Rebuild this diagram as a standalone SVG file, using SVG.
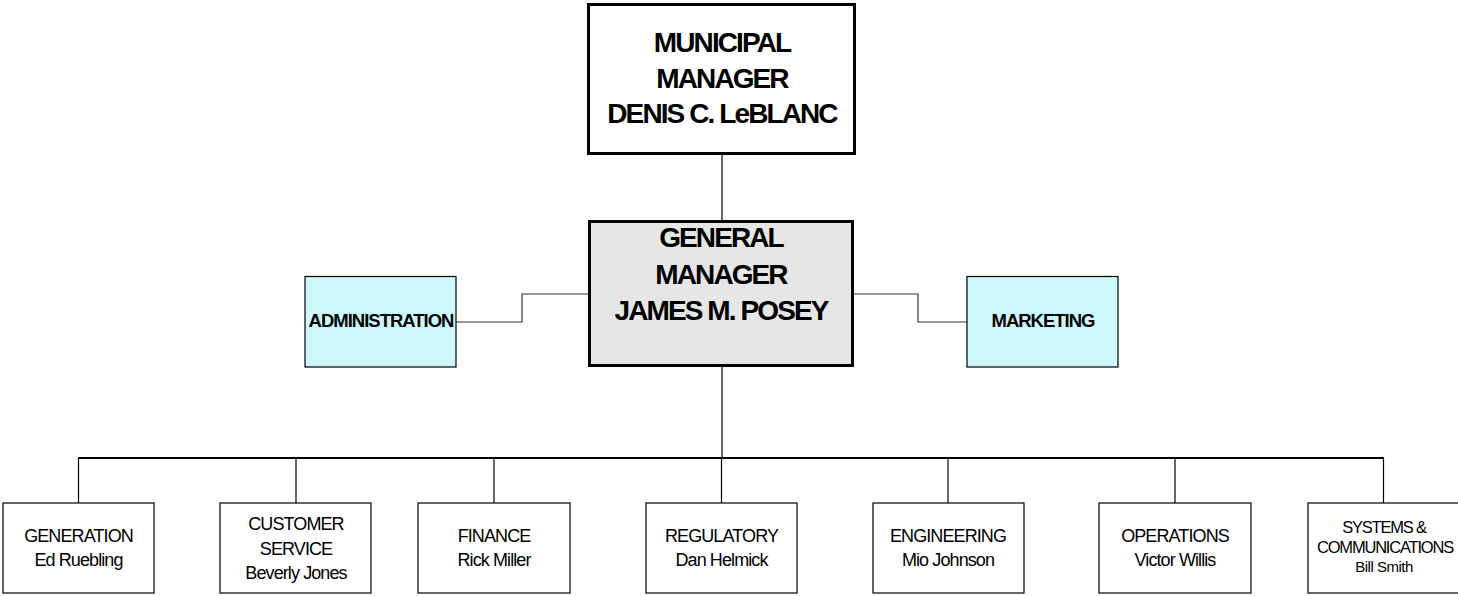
<svg xmlns="http://www.w3.org/2000/svg" width="1458" height="596" viewBox="0 0 1458 596">
<style>
  .big { font-family: "Liberation Sans", Arial, sans-serif; font-weight: bold; font-size: 28px; letter-spacing: -1.9px; text-anchor: middle; fill: #000; }
  .mid { font-family: "Liberation Sans", Arial, sans-serif; font-weight: bold; font-size: 18.5px; letter-spacing: -1px; text-anchor: middle; fill: #000; }
  .sm { font-family: "Liberation Sans", Arial, sans-serif; font-size: 18px; letter-spacing: -0.9px; text-anchor: middle; fill: #000; }
  .xs { font-family: "Liberation Sans", Arial, sans-serif; font-size: 16.5px; letter-spacing: -1.2px; text-anchor: middle; fill: #000; }
  .xxs { font-family: "Liberation Sans", Arial, sans-serif; font-size: 15px; letter-spacing: -0.5px; text-anchor: middle; fill: #000; }
  .thick { fill: #fff; stroke: #000; stroke-width: 3; }
  .side { fill: #ccf8fc; stroke: #000; stroke-width: 1.2; }
  .dept { fill: #fff; stroke: #000; stroke-width: 1.2; }
  .conn { fill: none; stroke: #000; stroke-width: 1.2; }
  .conn2 { fill: none; stroke: #333; stroke-width: 1.2; }
</style>
<rect width="1458" height="596" fill="#fff"/>
<g id="connectors">
  <line class="conn" x1="722" y1="155" x2="722" y2="220"/>
  <line class="conn" x1="722" y1="367" x2="722" y2="458"/>
  <polyline class="conn2" points="456,322 522,322 522,294 588,294"/>
  <polyline class="conn2" points="854,294 918,294 918,322 967,322"/>
  <line x1="78" y1="458" x2="1384" y2="458" stroke="#000" stroke-width="2"/>
  <line class="conn" x1="78.5" y1="458" x2="78.5" y2="503"/>
  <line class="conn" x1="296" y1="458" x2="296" y2="503"/>
  <line class="conn" x1="494" y1="458" x2="494" y2="503"/>
  <line class="conn" x1="721.5" y1="458" x2="721.5" y2="503"/>
  <line class="conn" x1="948" y1="458" x2="948" y2="503"/>
  <line class="conn" x1="1175" y1="458" x2="1175" y2="503"/>
  <line class="conn" x1="1383.5" y1="458" x2="1383.5" y2="503"/>
</g>
<g id="municipal-manager">
  <rect class="thick" x="588.5" y="4.5" width="266" height="149"/>
  <text class="big" x="722" y="52">MUNICIPAL</text>
  <text class="big" x="722" y="88">MANAGER</text>
  <text class="big" x="722" y="123">DENIS C. LeBLANC</text>
</g>
<g id="general-manager">
  <rect x="589.5" y="221.5" width="263" height="144" fill="#e6e6e6" stroke="#000" stroke-width="3"/>
  <text class="big" x="721" y="247">GENERAL</text>
  <text class="big" x="721" y="284">MANAGER</text>
  <text class="big" x="721" y="320">JAMES M. POSEY</text>
</g>
<g id="administration">
  <rect class="side" x="305" y="276.5" width="151" height="90.5"/>
  <text class="mid" x="381" y="327">ADMINISTRATION</text>
</g>
<g id="marketing">
  <rect class="side" x="967" y="276.5" width="151" height="90.5"/>
  <text class="mid" x="1043" y="327">MARKETING</text>
</g>
<g id="generation">
  <rect class="dept" x="3" y="503" width="151" height="90"/>
  <text class="sm" x="78.5" y="542">GENERATION</text>
  <text class="sm" x="78.5" y="566">Ed Ruebling</text>
</g>
<g id="customer-service">
  <rect class="dept" x="220" y="503" width="151" height="90"/>
  <text class="sm" x="296" y="530">CUSTOMER</text>
  <text class="sm" x="296" y="555">SERVICE</text>
  <text class="sm" x="296" y="579">Beverly Jones</text>
</g>
<g id="finance">
  <rect class="dept" x="418" y="503" width="152" height="90"/>
  <text class="sm" x="494" y="542">FINANCE</text>
  <text class="sm" x="494" y="566">Rick Miller</text>
</g>
<g id="regulatory">
  <rect class="dept" x="646" y="503" width="151" height="90"/>
  <text class="sm" x="721.5" y="542">REGULATORY</text>
  <text class="sm" x="721.5" y="566">Dan Helmick</text>
</g>
<g id="engineering">
  <rect class="dept" x="873" y="503" width="151" height="90"/>
  <text class="sm" x="948" y="542">ENGINEERING</text>
  <text class="sm" x="948" y="566">Mio Johnson</text>
</g>
<g id="operations">
  <rect class="dept" x="1099" y="503" width="152" height="90"/>
  <text class="sm" x="1175" y="542">OPERATIONS</text>
  <text class="sm" x="1175" y="566">Victor Willis</text>
</g>
<g id="systems-communications">
  <rect class="dept" x="1308" y="503" width="152" height="90"/>
  <text class="xs" x="1384" y="533">SYSTEMS &amp;</text>
  <text class="xs" x="1385" y="553">COMMUNICATIONS</text>
  <text class="xxs" x="1384" y="572">Bill Smith</text>
</g>
</svg>
